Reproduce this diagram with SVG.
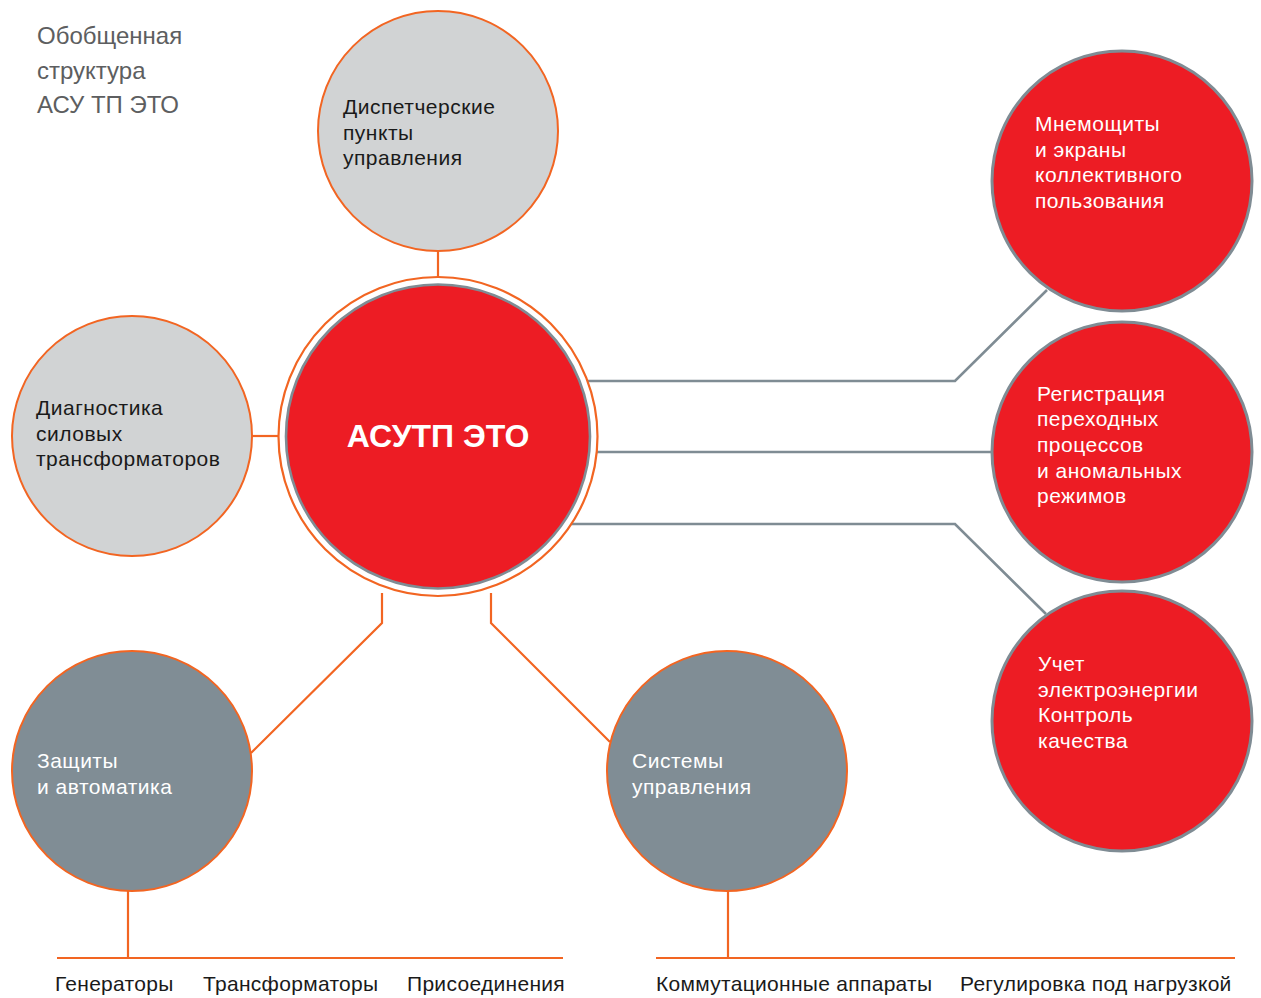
<svg xmlns="http://www.w3.org/2000/svg" width="1261" height="998" viewBox="0 0 1261 998">
<style>
text{font-family:"Liberation Sans",Arial,sans-serif;font-size:21px;letter-spacing:0.5px;}
.title{font-size:24px;fill:#5d5e60;letter-spacing:0;}
.dark{fill:#1a1a1a;}
.white{fill:#ffffff;}
.lbl{fill:#1a1a1a;font-size:21px;letter-spacing:0.3px;}
.orange{stroke:#f26522;stroke-width:2.2;fill:none;}
.grayl{stroke:#7f8c94;stroke-width:2.6;fill:none;}
.cLight{fill:#d1d3d4;stroke:#f26522;stroke-width:2;}
.cDark{fill:#808d95;stroke:#f26522;stroke-width:2;}
.cRed{fill:#ed1c24;stroke:#7f8c94;stroke-width:3;}
</style>
<rect width="1261" height="998" fill="#ffffff"/>
<g id="title">
<text class="title" x="37" y="44">Обобщенная</text>
<text class="title" x="37" y="79">структура</text>
<text class="title" x="37" y="113">АСУ ТП ЭТО</text>
</g>
<g id="connectors">
<line class="orange" x1="438" y1="251" x2="438" y2="277"/>
<line class="orange" x1="252" y1="436" x2="278" y2="436"/>
<polyline class="orange" points="382,593 382,623 251,753"/>
<polyline class="orange" points="491,593 491,623 610,742"/>
<line class="orange" x1="128" y1="891" x2="128" y2="958"/>
<line class="orange" x1="728" y1="891" x2="728" y2="958"/>
<line class="orange" x1="57" y1="958" x2="563" y2="958"/>
<line class="orange" x1="656" y1="958" x2="1235" y2="958"/>
<polyline class="grayl" points="580,381 955,381 1047,290"/>
<line class="grayl" x1="590" y1="452" x2="993" y2="452"/>
<polyline class="grayl" points="563,524 955,524 1046,614"/>
</g>
<g id="center">
<circle cx="438" cy="436.5" r="159.5" fill="#ffffff" stroke="#f26522" stroke-width="2.2"/>
<circle cx="438" cy="436.5" r="152" fill="#ed1c24" stroke="#7f8c94" stroke-width="2.6"/>
<text x="438" y="447" text-anchor="middle" class="white" style="font-size:32px;font-weight:bold;letter-spacing:0">АСУТП ЭТО</text>
</g>
<g id="dispatch">
<circle class="cLight" cx="438" cy="131" r="120"/>
<text class="dark" x="343" y="114">Диспетчерские</text>
<text class="dark" x="343" y="140">пункты</text>
<text class="dark" x="343" y="165">управления</text>
</g>
<g id="diagnostics">
<circle class="cLight" cx="132" cy="436" r="120"/>
<text class="dark" x="36" y="415">Диагностика</text>
<text class="dark" x="36" y="441">силовых</text>
<text class="dark" x="36" y="466">трансформаторов</text>
</g>
<g id="protection">
<circle class="cDark" cx="132" cy="771" r="120"/>
<text class="white" x="37" y="768">Защиты</text>
<text class="white" x="37" y="794">и автоматика</text>
</g>
<g id="control">
<circle class="cDark" cx="727" cy="771" r="120"/>
<text class="white" x="632" y="768">Системы</text>
<text class="white" x="632" y="794">управления</text>
</g>
<g id="mnemo">
<circle class="cRed" cx="1122" cy="181" r="130"/>
<text class="white" x="1035" y="131">Мнемощиты</text>
<text class="white" x="1035" y="157">и экраны</text>
<text class="white" x="1035" y="182">коллективного</text>
<text class="white" x="1035" y="208">пользования</text>
</g>
<g id="registration">
<circle class="cRed" cx="1122" cy="452" r="130"/>
<text class="white" x="1037" y="401">Регистрация</text>
<text class="white" x="1037" y="426">переходных</text>
<text class="white" x="1037" y="452">процессов</text>
<text class="white" x="1037" y="478">и аномальных</text>
<text class="white" x="1037" y="503">режимов</text>
</g>
<g id="metering">
<circle class="cRed" cx="1122" cy="721" r="130"/>
<text class="white" x="1038" y="671">Учет</text>
<text class="white" x="1038" y="697">электроэнергии</text>
<text class="white" x="1038" y="722">Контроль</text>
<text class="white" x="1038" y="748">качества</text>
</g>
<g id="labels">
<text class="lbl" x="55" y="991">Генераторы</text>
<text class="lbl" x="203" y="991">Трансформаторы</text>
<text class="lbl" x="407" y="991">Присоединения</text>
<text class="lbl" x="656" y="991">Коммутационные аппараты</text>
<text class="lbl" x="960" y="991">Регулировка под нагрузкой</text>
</g>
</svg>
